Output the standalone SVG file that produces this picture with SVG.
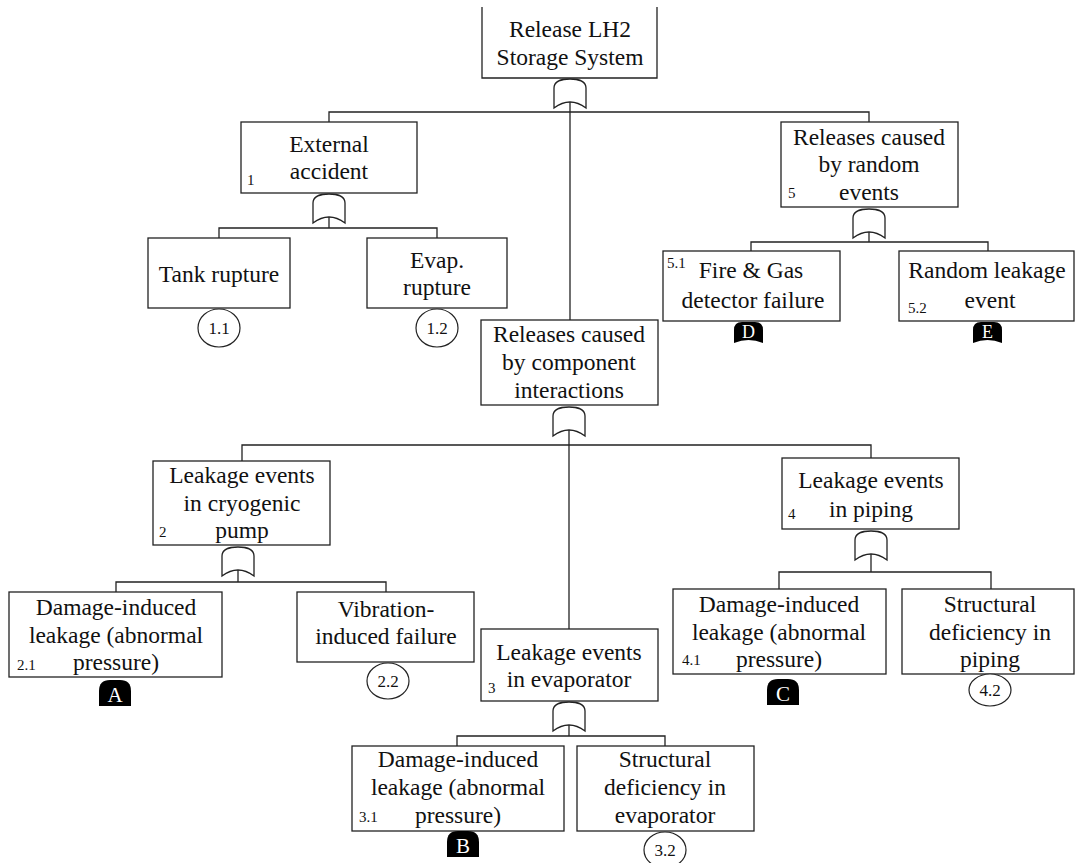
<svg xmlns="http://www.w3.org/2000/svg" width="1075" height="863" viewBox="0 0 1075 863">
  <style>
    .box { fill: #fff; stroke: #222; stroke-width: 1.3; }
    .wire { fill: none; stroke: #222; stroke-width: 1.3; }
    text { font-family: "Liberation Serif", "DejaVu Serif", serif; }
    .lbl { font-size: 23.5px; fill: #111; text-anchor: middle; }
    .num { font-size: 15px; fill: #111; }
    .ref { font-size: 17px; fill: #111; text-anchor: middle; }
    .tagtxt { font-size: 21px; fill: #fff; text-anchor: middle; }
    .tagsm { font-size: 18px; fill: #fff; text-anchor: middle; }
    .circ { fill: #fff; stroke: #222; stroke-width: 1.2; }
  </style>
  <defs>
    <!-- OR gate: domed top, concave base -->
    <path id="gate" d="M0,29 V9 C0,2 8,0 16,0 C24,0 32,2 32,9 V29 Q16,17 0,29 Z" fill="#fff" stroke="#222" stroke-width="1.3"/>
    <!-- black transfer tags -->
    <path id="tagFlat" d="M0,26 V11 Q0,0 11,0 H21 Q32,0 32,11 V26 Z" fill="#000"/>
    <path id="tagCurve" d="M0,21 V8 Q0,0 8,0 H21 Q29,0 29,8 V21 Q14.5,15 0,21 Z" fill="#000"/>
  </defs>

  <g id="connectors">
    <!-- top event -->
    <path class="wire" d="M570,101 V320"/>
    <path class="wire" d="M329,122 V112 H869 V122"/>
    <!-- external accident -->
    <path class="wire" d="M329,216 V228"/>
    <path class="wire" d="M219,238 V228 H437 V238"/>
    <!-- random events -->
    <path class="wire" d="M869,231 V242"/>
    <path class="wire" d="M751,251 V242 H988 V251"/>
    <!-- component interactions -->
    <path class="wire" d="M569,429 V629"/>
    <path class="wire" d="M242,461 V445 H871 V458"/>
    <!-- cryogenic pump -->
    <path class="wire" d="M238,569 V582"/>
    <path class="wire" d="M116,592 V582 H386 V592"/>
    <!-- piping -->
    <path class="wire" d="M871,553 V572"/>
    <path class="wire" d="M779,589 V572 H991 V589"/>
    <!-- evaporator -->
    <path class="wire" d="M569,724 V736"/>
    <path class="wire" d="M457,746 V736 H665 V746"/>
  </g>

  <g id="top-event">
    <path class="box" d="M482,7 V78 H657 V7"/>
    <text class="lbl" x="570" y="37">Release LH2</text>
    <text class="lbl" x="570" y="65">Storage System</text>
    <use href="#gate" x="554" y="79"/>
  </g>

  <g id="n1">
    <rect class="box" x="241" y="122" width="176" height="71"/>
    <text class="lbl" x="329" y="152">External</text>
    <text class="lbl" x="329" y="179">accident</text>
    <text class="num" x="247" y="185">1</text>
    <use href="#gate" x="313" y="194"/>
  </g>

  <g id="n1-1">
    <rect class="box" x="148" y="238" width="142" height="70"/>
    <text class="lbl" x="219" y="282">Tank rupture</text>
    <ellipse class="circ" cx="219" cy="328" rx="21" ry="19"/>
    <text class="ref" x="219" y="334">1.1</text>
  </g>

  <g id="n1-2">
    <rect class="box" x="367" y="238" width="140" height="70"/>
    <text class="lbl" x="437" y="268">Evap.</text>
    <text class="lbl" x="437" y="295">rupture</text>
    <ellipse class="circ" cx="437" cy="328" rx="21" ry="19"/>
    <text class="ref" x="437" y="334">1.2</text>
  </g>

  <g id="n5">
    <rect class="box" x="781" y="122" width="177" height="85"/>
    <text class="lbl" x="869" y="145">Releases caused</text>
    <text class="lbl" x="869" y="172">by random</text>
    <text class="lbl" x="869" y="200">events</text>
    <text class="num" x="788" y="198">5</text>
    <use href="#gate" x="853" y="209"/>
  </g>

  <g id="n5-1">
    <rect class="box" x="663" y="251" width="177" height="70"/>
    <text class="lbl" x="751" y="278">Fire &amp; Gas</text>
    <text class="lbl" x="753" y="308">detector failure</text>
    <text class="num" x="667" y="268">5.1</text>
    <use href="#tagCurve" x="734" y="322"/>
    <text class="tagsm" x="748.5" y="338">D</text>
  </g>

  <g id="n5-2">
    <rect class="box" x="899" y="251" width="175" height="70"/>
    <text class="lbl" x="987" y="278">Random leakage</text>
    <text class="lbl" x="990" y="308">event</text>
    <text class="num" x="908" y="313">5.2</text>
    <use href="#tagCurve" x="973" y="322"/>
    <text class="tagsm" x="987.5" y="338">E</text>
  </g>

  <g id="nC">
    <rect class="box" x="481" y="320" width="177" height="85"/>
    <text class="lbl" x="569" y="342">Releases caused</text>
    <text class="lbl" x="569" y="370">by component</text>
    <text class="lbl" x="569" y="398">interactions</text>
    <use href="#gate" x="553" y="407"/>
  </g>

  <g id="n2">
    <rect class="box" x="153" y="461" width="177" height="84"/>
    <text class="lbl" x="242" y="483">Leakage events</text>
    <text class="lbl" x="242" y="511">in cryogenic</text>
    <text class="lbl" x="242" y="538">pump</text>
    <text class="num" x="159" y="537">2</text>
    <use href="#gate" x="222" y="547"/>
  </g>

  <g id="n2-1">
    <rect class="box" x="9" y="592" width="213" height="85"/>
    <text class="lbl" x="116" y="615">Damage-induced</text>
    <text class="lbl" x="116" y="643">leakage (abnormal</text>
    <text class="lbl" x="116" y="670">pressure)</text>
    <text class="num" x="17" y="670">2.1</text>
    <use href="#tagFlat" x="99" y="680"/>
    <text class="tagtxt" x="115" y="702">A</text>
  </g>

  <g id="n2-2">
    <rect class="box" x="297" y="592" width="177" height="70"/>
    <text class="lbl" x="386" y="617">Vibration-</text>
    <text class="lbl" x="386" y="644">induced failure</text>
    <ellipse class="circ" cx="388" cy="681" rx="21" ry="18"/>
    <text class="ref" x="388" y="687">2.2</text>
  </g>

  <g id="n4">
    <rect class="box" x="782" y="458" width="177" height="71"/>
    <text class="lbl" x="871" y="488">Leakage events</text>
    <text class="lbl" x="871" y="517">in piping</text>
    <text class="num" x="788" y="519">4</text>
    <use href="#gate" x="855" y="531"/>
  </g>

  <g id="n4-1">
    <rect class="box" x="673" y="589" width="213" height="85"/>
    <text class="lbl" x="779" y="612">Damage-induced</text>
    <text class="lbl" x="779" y="640">leakage (abnormal</text>
    <text class="lbl" x="779" y="667">pressure)</text>
    <text class="num" x="682" y="665">4.1</text>
    <use href="#tagFlat" x="767" y="679"/>
    <text class="tagtxt" x="783" y="701">C</text>
  </g>

  <g id="n4-2">
    <rect class="box" x="902" y="589" width="172" height="85"/>
    <text class="lbl" x="990" y="612">Structural</text>
    <text class="lbl" x="990" y="640">deficiency in</text>
    <text class="lbl" x="990" y="667">piping</text>
    <ellipse class="circ" cx="990" cy="690" rx="21" ry="16"/>
    <text class="ref" x="990" y="696">4.2</text>
  </g>

  <g id="n3">
    <rect class="box" x="481" y="629" width="177" height="72"/>
    <text class="lbl" x="569" y="660">Leakage events</text>
    <text class="lbl" x="569" y="687">in evaporator</text>
    <text class="num" x="488" y="693">3</text>
    <use href="#gate" x="553" y="702"/>
  </g>

  <g id="n3-1">
    <rect class="box" x="352" y="746" width="212" height="85"/>
    <text class="lbl" x="458" y="767">Damage-induced</text>
    <text class="lbl" x="458" y="795">leakage (abnormal</text>
    <text class="lbl" x="458" y="823">pressure)</text>
    <text class="num" x="359" y="822">3.1</text>
    <use href="#tagFlat" x="447" y="831"/>
    <text class="tagtxt" x="463" y="853">B</text>
  </g>

  <g id="n3-2">
    <rect class="box" x="577" y="746" width="177" height="85"/>
    <text class="lbl" x="665" y="767">Structural</text>
    <text class="lbl" x="665" y="795">deficiency in</text>
    <text class="lbl" x="665" y="823">evaporator</text>
    <ellipse class="circ" cx="665" cy="850" rx="21" ry="18"/>
    <text class="ref" x="665" y="856">3.2</text>
  </g>
</svg>
